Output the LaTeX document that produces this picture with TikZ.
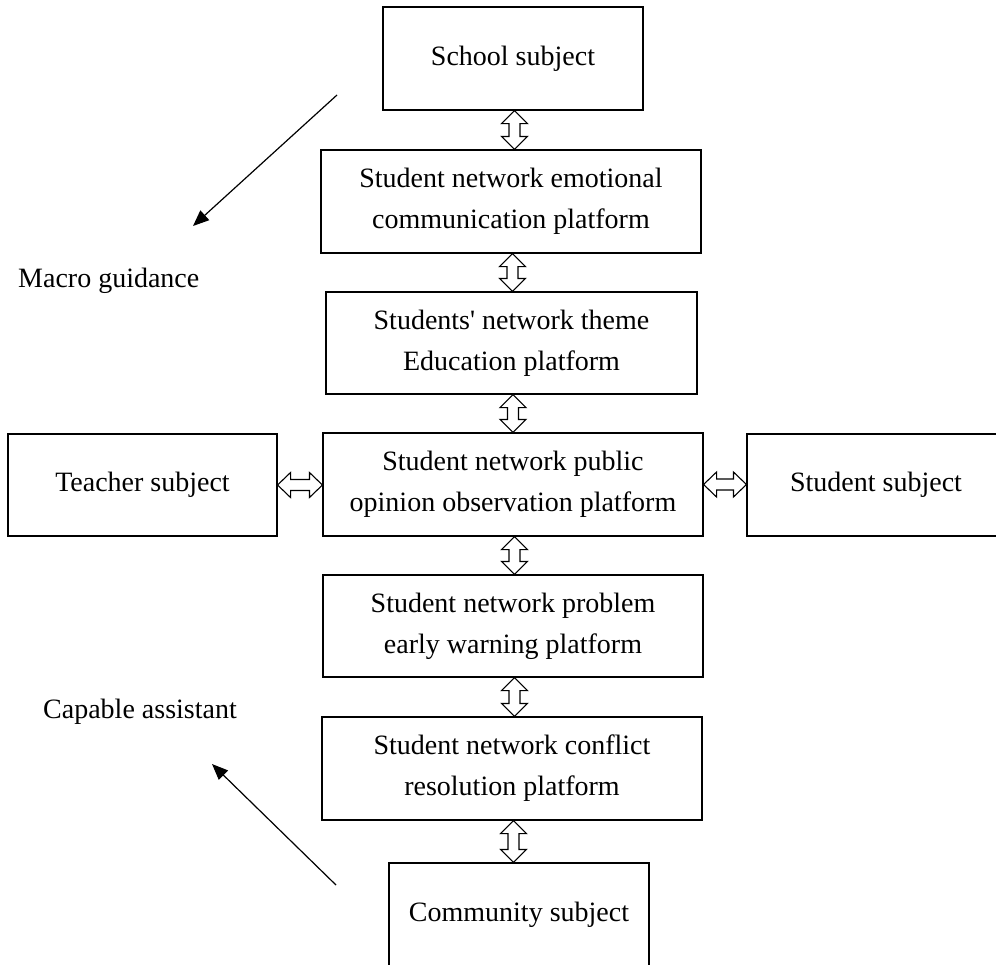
\documentclass[tikz,border=0pt]{standalone}
\usepackage{fontspec}
\setmainfont{Liberation Serif}
\usetikzlibrary{calc,arrows.meta}
\tikzset{
  box/.style={draw, line width=1.1pt, inner sep=0pt, align=center,
    font=\fontsize{28}{41}\selectfont},
  lbl/.style={inner sep=0pt, anchor=base west, font=\fontsize{28}{34}\selectfont},
  dbl/.style={draw, line width=1.1pt, line join=miter, fill=white},
  diag/.style={line width=1.2pt, -{Triangle[length=16pt,width=13pt]}}
}
\newcommand\vdarr[2]{\draw[dbl] let \p1=(#1.south), \p2=(#2.north) in
  (\x1+1.5pt,\y1) -- ++(13pt,-13pt) -- ++(-7.5pt,0pt) -- (\x1+7pt,\y2+13pt) -- ++(7.5pt,0pt)
  -- (\x1+1.5pt,\y2) -- ++(-13pt,13pt) -- ++(7.5pt,0pt) -- (\x1-4pt,\y1-13pt) -- ++(-7.5pt,0pt) -- cycle;}
\newcommand\hdarr[2]{\draw[dbl] let \p1=(#1.east), \p2=(#2.west) in
  (\x1,\y1) -- ++(13pt,12.5pt) -- ++(0pt,-7pt) -- (\x2-13pt,\y1+5.5pt) -- ++(0pt,7pt)
  -- (\x2,\y1) -- ++(-13pt,-12.5pt) -- ++(0pt,7pt) -- (\x1+13pt,\y1-5.5pt) -- ++(0pt,-7pt) -- cycle;}
\begin{document}
\begin{tikzpicture}[x=1pt,y=-1pt]
\clip (0,0) rectangle (996,964);
\node[box, minimum width=260pt, minimum height=103pt] (school) at (513,58.5) {School subject};
\node[box, minimum width=380pt, minimum height=103pt] (emo) at (511,201.5) {Student network emotional\\communication platform};
\node[box, minimum width=371pt, minimum height=102pt] (theme) at (511.5,343) {Students\textquotesingle\ network theme\\Education platform};
\node[box, minimum width=380pt, minimum height=103pt] (opinion) at (513,484.5) {Student network public\\opinion observation platform};
\node[box, minimum width=269pt, minimum height=102pt] (teacher) at (142.5,485) {Teacher subject};
\node[box, minimum width=258pt, minimum height=102pt] (student) at (876,485) {Student subject};
\node[box, minimum width=380pt, minimum height=102pt] (problem) at (513,626) {Student network problem\\early warning platform};
\node[box, minimum width=380pt, minimum height=103pt] (conflict) at (512,768.5) {Student network conflict\\resolution platform};
\node[box, minimum width=260pt, minimum height=103pt] (community) at (519,914.5) {Community subject};

\vdarr{school}{emo}
\vdarr{emo}{theme}
\vdarr{theme}{opinion}
\vdarr{opinion}{problem}
\vdarr{problem}{conflict}
\vdarr{conflict}{community}
\hdarr{teacher}{opinion}
\hdarr{opinion}{student}

\node[lbl] (macro) at (18,287) {Macro guidance};
\node[lbl] (capable) at (43,718) {Capable assistant};

\coordinate (m1s) at (337,95);
\coordinate (m1e) at (193,226);
\coordinate (c1s) at (336,885);
\coordinate (c1e) at (212,764);
\draw[diag] (m1s) -- (m1e);
\draw[diag] (c1s) -- (c1e);
\end{tikzpicture}
\end{document}
